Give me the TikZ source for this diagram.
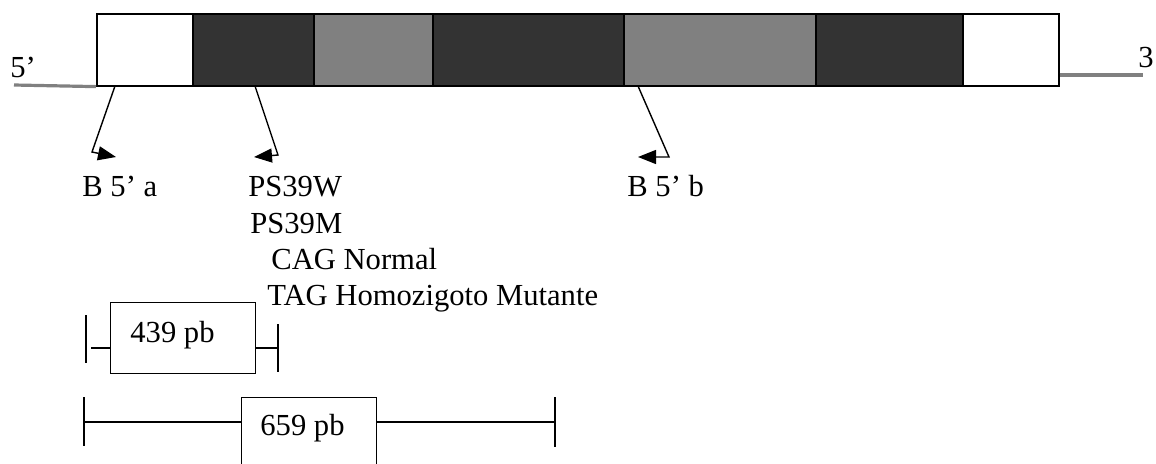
\documentclass[tikz,border=0pt]{standalone}
\usepackage{fontspec}
\setmainfont{Liberation Serif}
\usetikzlibrary{arrows.meta,positioning}
\definecolor{exon}{HTML}{333333}
\definecolor{intron}{HTML}{808080}
\tikzset{
    %Define standard arrow tip
    >={Triangle[length=9pt,width=7pt]},
    %Define style for gene segments
    seg/.style={
   	rectangle,
   	draw=black, line width=0.8pt,
   	inner sep=0pt,
   	minimum height=36pt,
   	anchor=north west
   },
   %Define style for fragment boxes
   fragbox/.style={
   	rectangle,
   	draw=black, line width=0.7pt,
   	inner sep=0pt,
   	anchor=north west
   },
   lbl/.style={
   	anchor=base west,
   	inner sep=0pt,
   	font=\fontsize{15.3}{18}\selectfont
   },
    % Define arrow style
    pil/.style={
           ->,
           line width=0.7pt},
    bar/.style={line width=0.7pt}
}
\begin{document}
\begin{tikzpicture}[x=0.5pt,y=-0.5pt]
		\useasboundingbox (0,0) rectangle (1156,463);
		% gene
		\node[seg, fill=white, minimum width=48pt](s1) at (96,13){};
		\node[seg, fill=exon, minimum width=60.5pt](s2) at (192,13){};
		\node[seg, fill=intron, minimum width=59.5pt](s3) at (313,13){};
		\node[seg, fill=exon, minimum width=95.5pt](s4) at (432,13){};
		\node[seg, fill=intron, minimum width=96pt](s5) at (623,13){};
		\node[seg, fill=exon, minimum width=73.5pt](s6) at (815,13){};
		\node[seg, fill=white, minimum width=48pt](s7) at (962,13){};
		\coordinate (l5) at (14,85);
		\coordinate (r3) at (1143,75);
		\draw[intron, line width=1.6pt] (l5) -- (s1.south west);
		\draw[intron, line width=1.6pt] (s7.south east |- r3) -- (r3);
		\node[lbl](p5) at (10,77){5’};
		\node[lbl](p3) at (1138,67){3};
		% primers
		\node[lbl](ba) at (82,196){B 5’ a};
		\node[lbl](ps) at (248,196){PS39W};
		\node[lbl](pm) at (250,233){PS39M};
		\node[lbl](cag) at (271,269){CAG Normal};
		\node[lbl](tag) at (267,305){TAG Homozigoto Mutante};
		\node[lbl](bb) at (627,196){B 5’ b};
		\coordinate (a0) at (115,86);
		\coordinate (a1) at (92,152);
		\coordinate (a2) at (116,157);
		\coordinate (w0) at (255,86);
		\coordinate (w1) at (278,155);
		\coordinate (w2) at (254,157);
		\coordinate (b0) at (638,86);
		\coordinate (b1) at (669,157);
		\coordinate (b2) at (638,157);
		\draw[pil] (a0) -- (a1) -- (a2);
		\draw[pil] (w0) -- (w1) -- (w2);
		\draw[pil] (b0) -- (b1) -- (b2);
		% fragments
		\node[fragbox, minimum width=72.5pt, minimum height=35.5pt](f1) at (110,302){};
		\node[lbl](t1) at (130,342){439 pb};
		\coordinate (f1l) at (86,348);
		\coordinate (f1r) at (278,348);
		\draw[bar] (86,315) -- (86,363);
		\draw[bar] ([xshift=2.5pt]f1l) -- (f1.west |- f1l);
		\draw[bar] (f1.east |- f1r) -- (f1r);
		\draw[bar] (278,324) -- (278,372);
		\node[fragbox, minimum width=67.5pt, minimum height=40pt](f2) at (241,397){};
		\node[lbl](t2) at (260,435){659 pb};
		\coordinate (f2l) at (84,422);
		\coordinate (f2r) at (555,422);
		\draw[bar] (84,397) -- (84,446);
		\draw[bar] (f2l) -- (f2.west |- f2l);
		\draw[bar] (f2.east |- f2r) -- (f2r);
		\draw[bar] (555,397) -- (555,447);
		\end{tikzpicture}
\end{document}
